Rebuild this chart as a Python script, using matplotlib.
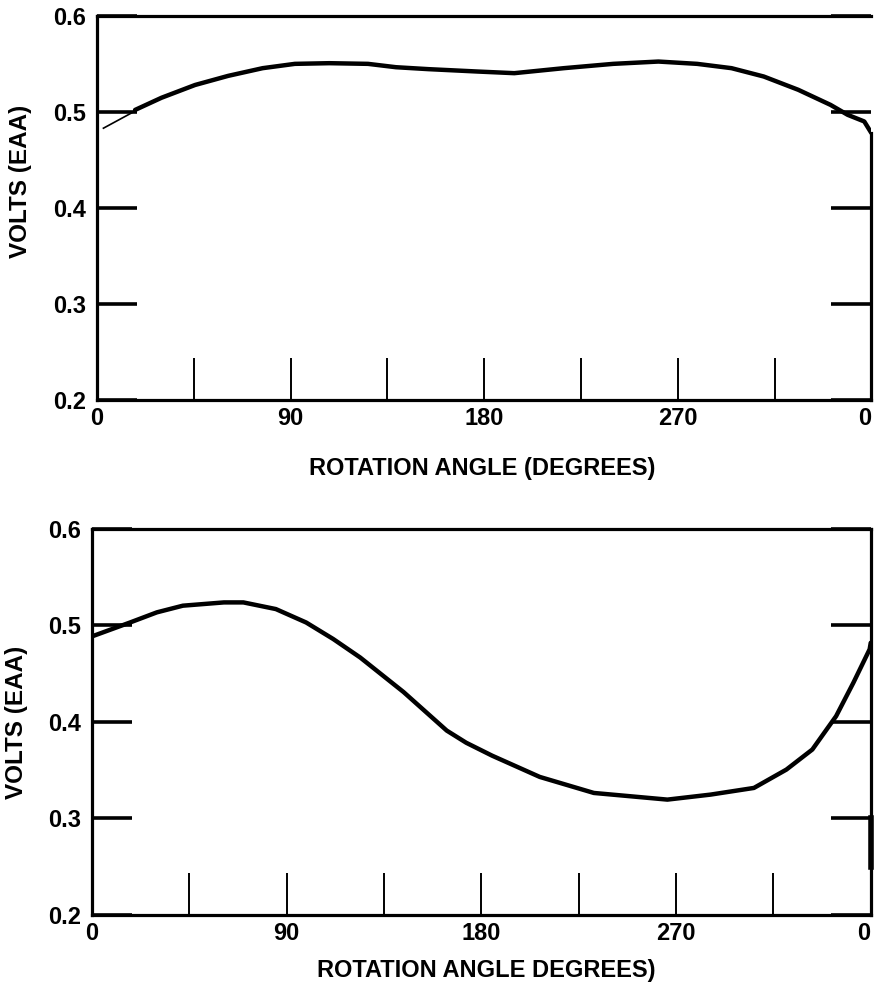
import matplotlib
matplotlib.use('Agg')
import matplotlib.pyplot as plt

# top panel: trace (degrees, volts)
top_lead_angle = [3, 17]
top_lead_volts = [0.483, 0.500]
top_angle = [17.7, 30, 45.6, 61, 77, 92, 108, 126, 139, 154, 177, 194, 217, 240, 261, 279, 295, 310, 326, 341, 349, 356.7, 360]
top_volts = [0.502, 0.5147, 0.528, 0.5375, 0.5455, 0.550, 0.5507, 0.550, 0.5465, 0.5445, 0.542, 0.5403, 0.5455, 0.550, 0.5524, 0.550, 0.5455, 0.5368, 0.523, 0.5073, 0.4969, 0.490, 0.478]

# bottom panel
bot_angle = [0.5, 17.6, 30, 42, 61, 70, 85, 99, 111.5, 124, 144, 164, 173, 185, 207, 232, 266, 286, 306, 321, 333, 344, 352, 359.5, 360]
bot_volts = [0.489, 0.503, 0.5135, 0.5204, 0.5238, 0.5238, 0.5169, 0.503, 0.4859, 0.4667, 0.431, 0.391, 0.3784, 0.365, 0.343, 0.3264, 0.3195, 0.3247, 0.3316, 0.3506, 0.3714, 0.406, 0.4407, 0.4753, 0.482]

x_ticks = [0, 45, 90, 135, 180, 225, 270, 315, 360]
x_labels = ['0', '', '90', '', '180', '', '270', '', '0']
y_ticks = [0.2, 0.3, 0.4, 0.5, 0.6]
y_labels = ['0.2', '0.3', '0.4', '0.5', '0.6']

plt.rcParams['font.family'] = ['Liberation Sans', 'DejaVu Sans']
plt.rcParams['font.weight'] = 'bold'

fig = plt.figure(figsize=(8.76, 9.9), dpi=100)
ax1 = fig.add_axes([0.1107, 0.596, 0.884, 0.388])
ax2 = fig.add_axes([0.105, 0.0758, 0.889, 0.390])


def style_axes(ax):
    ax.set_xlim(0, 360)
    ax.set_ylim(0.2, 0.6)
    for s in ax.spines.values():
        s.set_linewidth(2.3)
    ax.set_xticks(x_ticks)
    ax.set_xticklabels(x_labels)
    ax.set_yticks(y_ticks)
    ax.set_yticklabels(y_labels)
    ax.tick_params(axis='x', direction='in', length=30, width=1.4, pad=5, labelsize=17)
    ax.tick_params(axis='y', direction='in', length=29, width=2.6, pad=8, labelsize=17,
                   right=True, labelright=False)
    # last "0" sits on the right edge of the page
    ax.get_xticklabels()[-1].set_horizontalalignment('right')


ax1.plot(top_lead_angle, top_lead_volts, color='black', linewidth=1.2)
ax1.plot(top_angle, top_volts, color='black', linewidth=3.2,
         solid_joinstyle='round', solid_capstyle='round')
style_axes(ax1)
ax1.spines['right'].set_bounds(0.2, 0.478)
ax1.set_xlabel('ROTATION ANGLE (DEGREES)', fontsize=17, fontweight='bold')
ax1.set_ylabel('VOLTS (EAA)', fontsize=17.5, fontweight='bold')
ax1.xaxis.set_label_coords(0.497, -0.148)
ax1.yaxis.set_label_coords(-0.084, 0.568)

ax2.plot(bot_angle, bot_volts, color='black', linewidth=3.2,
         solid_joinstyle='round', solid_capstyle='round')
style_axes(ax2)
ax2.plot([360, 360], [0.25, 0.30], color='black', linewidth=4, clip_on=False)
ax2.set_xlabel('ROTATION ANGLE DEGREES)', fontsize=17, fontweight='bold')
ax2.set_ylabel('VOLTS (EAA)', fontsize=17.5, fontweight='bold')
ax2.xaxis.set_label_coords(0.506, -0.115)
ax2.yaxis.set_label_coords(-0.082, 0.5)

plt.savefig('out.png', dpi=100)
plt.close()
